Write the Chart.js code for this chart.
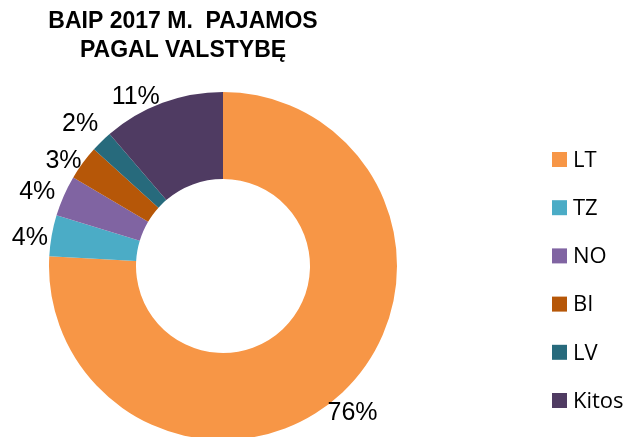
<!DOCTYPE html>
<html>
<head>
<meta charset="utf-8">
<script src="https://cdn.jsdelivr.net/npm/chart.js@4.4.7/dist/chart.umd.min.js"></script>
<style>
  html, body { margin: 0; padding: 0; background: #fff; overflow: hidden; }
  #wrap { position: relative; width: 636px; height: 450px; }
</style>
</head>
<body>
<div id="wrap"><canvas id="chart"></canvas></div>
<script>
const titleLines = ['BAIP 2017 M.  PAJAMOS', 'PAGAL VALSTYBĘ'];
const countries = ['LT', 'TZ', 'NO', 'BI', 'LV', 'Kitos'];
const shares = [75.9, 3.8, 3.8, 3.2, 2.0, 11.3];
const colors = ['#F79646', '#4BACC6', '#8064A2', '#B65708', '#276A7C', '#4F3B62'];

// label placement tweaks (degrees, gap outside the ring) to mimic the original layout
const labelNudge = [[2, 22], [-2, 21], [-2, 26], [-3, 17], [-1, 27], [-7, 16]];

const sliceLabels = {
  id: 'sliceLabels',
  afterDatasetsDraw(chart) {
    const ctx = chart.ctx;
    const meta = chart.getDatasetMeta(0);
    const total = shares.reduce((a, b) => a + b, 0);
    ctx.save();
    ctx.font = '25px "Liberation Sans", Arial, sans-serif';
    ctx.fillStyle = '#000';
    ctx.textAlign = 'center';
    ctx.textBaseline = 'middle';
    meta.data.forEach((arc, i) => {
      const p = arc.getProps(['x', 'y', 'startAngle', 'endAngle', 'outerRadius'], true);
      const a = (p.startAngle + p.endAngle) / 2 + labelNudge[i][0] * Math.PI / 180;
      const r = p.outerRadius + labelNudge[i][1];
      const txt = Math.round(shares[i] / total * 100) + '%';
      ctx.fillText(txt, p.x + Math.cos(a) * r, p.y + Math.sin(a) * r);
    });
    ctx.restore();
  }
};

const titleAndLegend = {
  id: 'titleAndLegend',
  afterDraw(chart) {
    const ctx = chart.ctx;
    ctx.save();
    ctx.fillStyle = '#000';
    ctx.textAlign = 'center';
    ctx.textBaseline = 'middle';
    ctx.font = 'bold 23px "Liberation Sans", Arial, sans-serif';
    titleLines.forEach((t, i) => ctx.fillText(t, 183, 22 + i * 28.3));

    ctx.font = '22px "Open Sans", sans-serif';
    ctx.textAlign = 'left';
    countries.forEach((c, i) => {
      const y = 159.5 + i * 48.2;
      ctx.fillStyle = colors[i];
      ctx.fillRect(552, y - 7.5, 15, 15);
      ctx.fillStyle = '#000';
      ctx.fillText(c, 573, y + 1);
    });
    ctx.restore();
  }
};

new Chart(document.getElementById('chart'), {
  type: 'doughnut',
  data: {
    labels: countries,
    datasets: [{
      data: shares,
      backgroundColor: colors,
      borderWidth: 0
    }]
  },
  options: {
    responsive: true,
    maintainAspectRatio: false,
    animation: false,
    cutout: '50%',
    layout: { padding: { left: 49, right: 239, top: 92, bottom: 10 } },
    plugins: {
      legend: { display: false },
      tooltip: { enabled: false }
    }
  },
  plugins: [sliceLabels, titleAndLegend]
});
</script>
</body>
</html>
